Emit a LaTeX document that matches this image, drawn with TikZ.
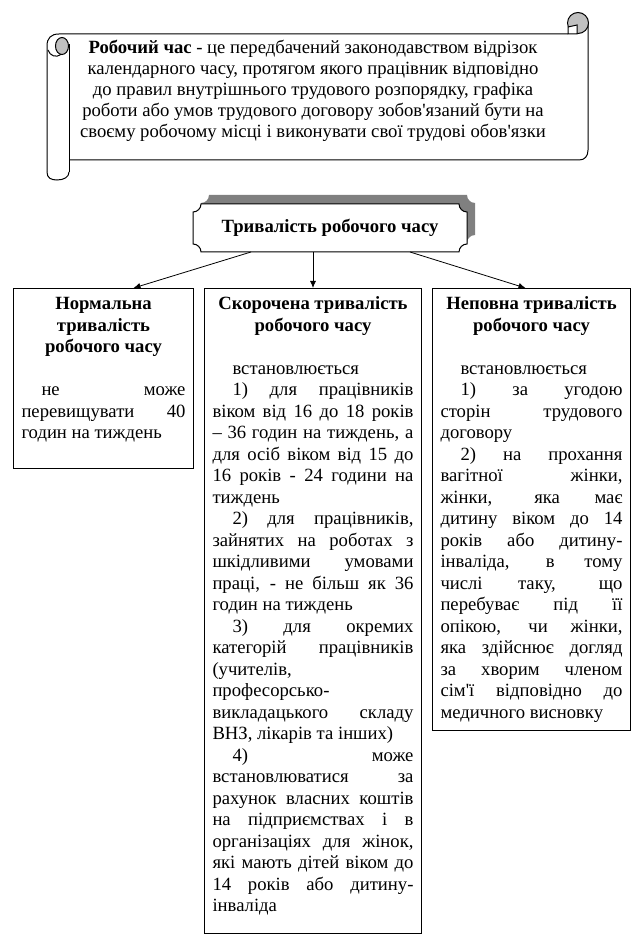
\documentclass[tikz,border=0pt]{standalone}
\usepackage{fontspec}
\setmainfont{Liberation Serif}[Ligatures=TeXOff]
\usetikzlibrary{arrows.meta}

\definecolor{rollgray}{HTML}{C0C0C0}
\definecolor{shadowgray}{HTML}{808080}

\tikzset{
  arr/.style={-{Latex[length=7pt,width=6pt]}, line width=0.8pt},
  infobox/.style={draw, line width=1pt, anchor=north west, align=justify,
    text width=#1, inner xsep=8pt, inner ysep=4pt, text height=17pt,
    font=\fontsize{18.67}{21.5}\selectfont,
    execute at begin node={\hyphenpenalty=10000\tolerance=10000}},
  plaque/.pic={
    \path[pic actions] (-129,-24) -- (129,-24)
      .. controls (129,-19.6) and (132.6,-16) .. (137,-16) -- (137,16)
      .. controls (132.6,16) and (129,19.6) .. (129,24) -- (-129,24)
      .. controls (-129,19.6) and (-132.6,16) .. (-137,16) -- (-137,-16)
      .. controls (-132.6,-16) and (-129,-19.6) .. (-129,-24) -- cycle;
  },
}
\newcommand{\ind}{\hspace*{20pt}}
\newcommand{\boxhead}[1]{{\centering\bfseries #1\par}\vspace{\baselineskip}}

\begin{document}
\begin{tikzpicture}[x=1pt, y=-1pt]
 \useasboundingbox (0,0) rectangle (637,949);

% Scroll with the definition
\begin{scope}[line width=1pt]
 \draw (588,23) -- (588,150) .. controls (588,156) and (585,160) .. (579,160) -- (69,160);
 \draw (69,44) -- (69,172);
 \draw (47,172) -- (47,46) .. controls (47,38) and (51,34) .. (59,34) -- (568,34);
 \draw (47,172) .. controls (47,178) and (51,180) .. (57,180) .. controls (64,180) and (69,177) .. (69,172); % lower roll
 \filldraw[fill=rollgray] (62,46) ellipse (6.5 and 8.5); % upper left hole
 \draw (48,50) .. controls (50,56) and (56,58) .. (61,54.5);
 \filldraw[fill=rollgray] (578,23) circle (10.5); % upper right curl
 \filldraw[fill=white] (568,34) -- (568,27) -- (577,25) -- (577,34) -- cycle;
\end{scope}

 \node[font=\fontsize{18.67}{21}\selectfont, align=center] (def) at (313,91)
  {\textbf{Робочий час} - це передбачений законодавством відрізок\\
   календарного часу, протягом якого працівник відповідно\\
   до правил внутрішнього трудового розпорядку, графіка\\
   роботи або умов трудового договору зобов'язаний бути на\\
   своєму робочому місці і виконувати свої трудові обов'язки};

% Plaque with its shadow
 \pic[fill=shadowgray] at (338,219) {plaque};
 \pic[draw, line width=1pt, fill=white] at (330,228) {plaque};
 \node[minimum width=274pt, minimum height=48pt, outer sep=0pt,
  font=\fontsize{18.67}{21.5}\selectfont\bfseries] (dur) at (330,228) {Тривалість робочого часу};

% Three kinds of working time
 \node[infobox=164pt, text depth=155pt] (normal) at (13,288)
  {\boxhead{Нормальна\\ тривалість\\ робочого часу}
   \ind не може\linebreak перевищувати 40\linebreak годин на тиждень};

 \node[infobox=201pt, text depth=620pt] (short) at (204,288)
  {\boxhead{Скорочена тривалість\\ робочого часу}
   \ind встановлюється\par
   \ind 1) для працівників\linebreak віком від 16 до 18 років\linebreak
   – 36 годин на тиждень, а\linebreak для осіб віком від 15 до\linebreak
   16 років - 24 години на\linebreak тиждень\par
   \ind 2) для працівників,\linebreak зайнятих на роботах з\linebreak
   шкідливими умовами\linebreak праці, - не більш як 36\linebreak годин на тиждень\par
   \ind 3) для окремих\linebreak категорій працівників\linebreak (учителів,\linebreak
   професорсько-\linebreak викладацького складу\linebreak ВНЗ, лікарів та інших)\par
   \ind 4) може\linebreak встановлюватися за\linebreak рахунок власних коштів\linebreak
   на підприємствах і в\linebreak організаціях для жінок,\linebreak
   які мають дітей віком до\linebreak 14 років або дитину-\linebreak інваліда};

 \node[infobox=182pt, text depth=417pt] (part) at (432,288)
  {\boxhead{Неповна тривалість\\ робочого часу}
   \ind встановлюється\par
   \ind 1) за угодою\linebreak сторін трудового\linebreak договору\par
   \ind 2) на прохання\linebreak вагітної жінки,\linebreak жінки, яка має\linebreak
   дитину віком до 14\linebreak років або дитину-\linebreak інваліда, в тому\linebreak
   числі таку, що\linebreak перебуває під її\linebreak опікою, чи жінки,\linebreak
   яка здійснює догляд\linebreak за хворим членом\linebreak сім'ї відповідно до\linebreak
   медичного висновку};

 \draw[arr] ([xshift=58pt]dur.south west) -- ([xshift=30pt]normal.north);
 \draw[arr] ([xshift=120pt]dur.south west) -- (short.north);
 \draw[arr] ([xshift=217pt]dur.south west) -- ([xshift=-6pt]part.north);

\end{tikzpicture}
\end{document}
